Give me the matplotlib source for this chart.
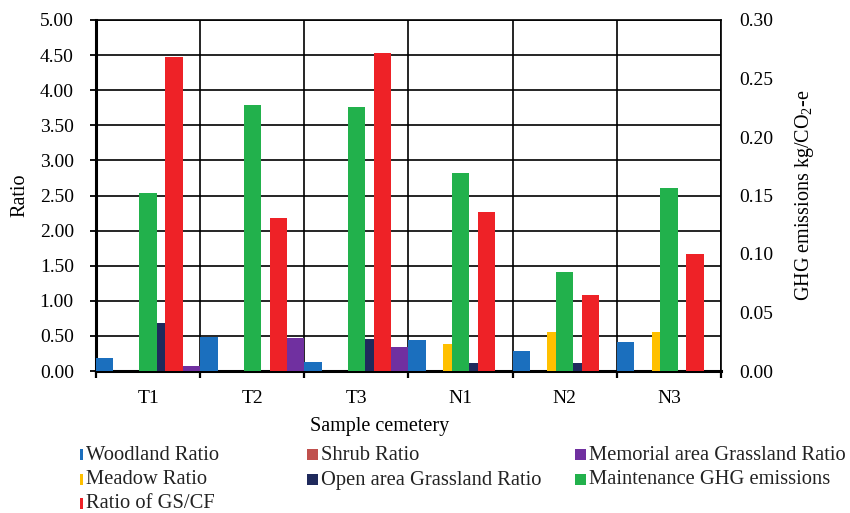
import numpy as np
import matplotlib
matplotlib.use('Agg')
import matplotlib.pyplot as plt
from matplotlib.patches import Rectangle

plt.rcParams['font.family'] = 'Liberation Serif'
plt.rcParams['mathtext.fontset'] = 'custom'
plt.rcParams['mathtext.rm'] = 'Liberation Serif'

cemeteries = ['T1', 'T2', 'T3', 'N1', 'N2', 'N3']

# primary axis series (ratios)
woodland = [0.18, 0.49, 0.13, 0.44, 0.28, 0.41]
shrub = [0, 0, 0, 0, 0, 0]
meadow = [0, 0, 0, 0.39, 0.55, 0.55]
open_grass = [0.69, 0, 0.45, 0.11, 0.11, 0]
gs_cf = [4.47, 2.18, 4.53, 2.26, 1.08, 1.67]
memorial = [0.07, 0.47, 0.34, 0, 0, 0]

# secondary axis series (kg CO2-e)
ghg = [0.152, 0.227, 0.226, 0.169, 0.085, 0.156]

c_wood = '#1B6FBE'
c_shrub = '#C0504D'
c_mem = '#7030A0'
c_meadow = '#FFC000'
c_open = '#1F2A5C'
c_ghg = '#22B14C'
c_ratio = '#EE2227'

fig = plt.figure(figsize=(8.5, 5.13), dpi=100)
ax = fig.add_axes([96 / 850, 142 / 513, 625 / 850, 351 / 513])

x = np.arange(len(cemeteries))
w = 1 / 6
primary = [(woodland, c_wood), (shrub, c_shrub), (meadow, c_meadow),
           (open_grass, c_open), (gs_cf, c_ratio), (memorial, c_mem)]
for i, (vals, col) in enumerate(primary):
    ax.bar(x - 0.5 + w * (i + 0.5), vals, w, color=col, linewidth=0, zorder=3)

ax.set_xlim(-0.5, 5.5)
ax.set_ylim(0, 5)
ax.set_yticks(np.arange(0, 5.01, 0.5))
ax.yaxis.set_major_formatter(matplotlib.ticker.FormatStrFormatter('%.2f'))
ax.set_xticks(x)
ax.set_xticklabels(cemeteries)
ax.set_xticks(np.arange(-0.5, 5.6, 1), minor=True)
ax.tick_params(axis='x', which='major', length=0, pad=14, labelsize=14)
ax.tick_params(axis='x', which='minor', length=5, width=1.6, direction='out')
ax.tick_params(axis='y', length=4, width=1.3, direction='out', labelsize=14, pad=12)
ax.grid(axis='y', color='black', linewidth=1.2, zorder=0)
ax.grid(axis='x', which='minor', color='black', linewidth=1.2, zorder=0)
ax.set_axisbelow(True)
for s in ['left', 'bottom']:
    ax.spines[s].set_linewidth(2.2)
for s in ['top', 'right']:
    ax.spines[s].set_linewidth(1.2)

ax.set_xlabel('Sample cemetery', fontsize=14.5)
ax.xaxis.set_label_coords(0.453, -0.13)
ax.set_ylabel('Ratio', fontsize=14.5, labelpad=7)

ax2 = ax.twinx()
ax2.bar(x, ghg, w, color=c_ghg, linewidth=0, zorder=3)
ax2.set_ylim(0, 0.30)
ax2.set_yticks(np.arange(0, 0.301, 0.05))
ax2.yaxis.set_major_formatter(matplotlib.ticker.FormatStrFormatter('%.2f'))
ax2.tick_params(axis='y', length=0, labelsize=14, pad=13)
ax2.set_ylabel(r'GHG emissions kg/CO$_2$-e', fontsize=14.5, labelpad=14)
for s in ax2.spines.values():
    s.set_visible(False)

# legend laid out like the original (three columns)
entries = [('Woodland Ratio', c_wood), ('Shrub Ratio', c_shrub),
           ('Memorial area Grassland Ratio', c_mem), ('Meadow Ratio', c_meadow),
           ('Open area Grassland Ratio', c_open), ('Maintenance GHG emissions', c_ghg),
           ('Ratio of GS/CF', c_ratio)]
col_mark = [80, 307, 575]
col_mw = [2.5, 11, 11]
col_text = [86, 321, 589]
row_y = [454, 479, 503]
for k, (lab, col) in enumerate(entries):
    r, c = divmod(k, 3)
    yc = row_y[r]
    fig.add_artist(Rectangle((col_mark[c] / 850, 1 - (yc + 5.5) / 513),
                             col_mw[c] / 850, 11 / 513,
                             transform=fig.transFigure, color=col, lw=0))
    fig.text(col_text[c] / 850, 1 - (yc + 1) / 513, lab, fontsize=14.8,
             va='center', ha='left', color='#222222')

fig.savefig('out.png', dpi=100)
